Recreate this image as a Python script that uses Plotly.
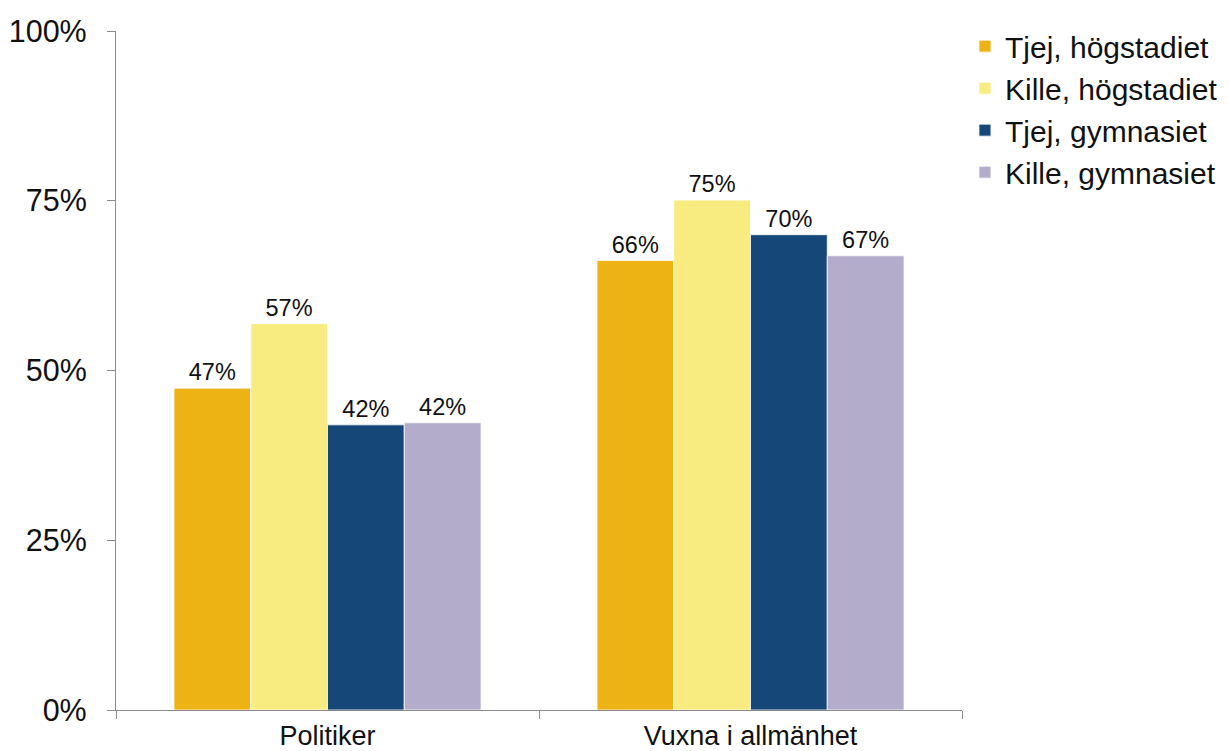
import plotly.graph_objects as go

categories = ["Politiker", "Vuxna i allmänhet"]
series_names = ["Tjej, högstadiet", "Kille, högstadiet", "Tjej, gymnasiet", "Kille, gymnasiet"]
tjej_hog = [47.4, 66.2]
kille_hog = [56.9, 75.1]
tjej_gym = [42.0, 70.0]
kille_gym = [42.3, 66.9]
colors = ["#EDB214", "#F8EC80", "#154778", "#B3ADCB"]

series_values = [tjej_hog, kille_hog, tjej_gym, kille_gym]
y_ticks = [0, 25, 50, 75, 100]
y_ticktext = [f"{v}%" for v in y_ticks]

font_family = "Arial, Liberation Sans, sans-serif"

fig = go.Figure()
for name, vals, col in zip(series_names, series_values, colors):
    fig.add_trace(go.Bar(
        name=name, x=categories, y=vals,
        marker=dict(color=col, line=dict(color="white", width=0.8)),
        text=[f"{round(v)}%" for v in vals],
        textposition="outside",
        textfont=dict(size=23.5, color="#111111", family=font_family),
        cliponaxis=False,
    ))

fig.update_layout(
    width=1221, height=743,
    margin=dict(l=108, r=267, t=23, b=41, autoexpand=False),
    paper_bgcolor="white", plot_bgcolor="white",
    barmode="group", bargap=0.274, bargroupgap=0,
    font=dict(family=font_family, color="#111111"),
    legend=dict(
        x=1.0035, y=1.016, xanchor="left", yanchor="top",
        font=dict(size=30, color="#111111", family=font_family),
        tracegroupgap=0, itemwidth=30,
    ),
    showlegend=True,
)
fig.update_yaxes(
    range=[0, 100], tickvals=y_ticks, ticktext=y_ticktext,
    showgrid=False, zeroline=False, automargin=False,
    showline=True, linecolor="#8C8C8C", linewidth=1.3,
    ticks="outside", ticklen=8, tickcolor="#8C8C8C", tickwidth=1.3,
    tickfont=dict(size=30.5, color="#111111", family=font_family),
    ticklabelstandoff=14,
)
fig.update_xaxes(
    showgrid=False, showline=True, linecolor="#8C8C8C", linewidth=1.3,
    ticks="outside", ticklen=8, tickcolor="#8C8C8C", tickwidth=1.3,
    tickson="boundaries", automargin=False,
    tickfont=dict(size=27, color="#111111", family=font_family),
    ticklabelstandoff=1,
)

fig.write_html("out.html")
